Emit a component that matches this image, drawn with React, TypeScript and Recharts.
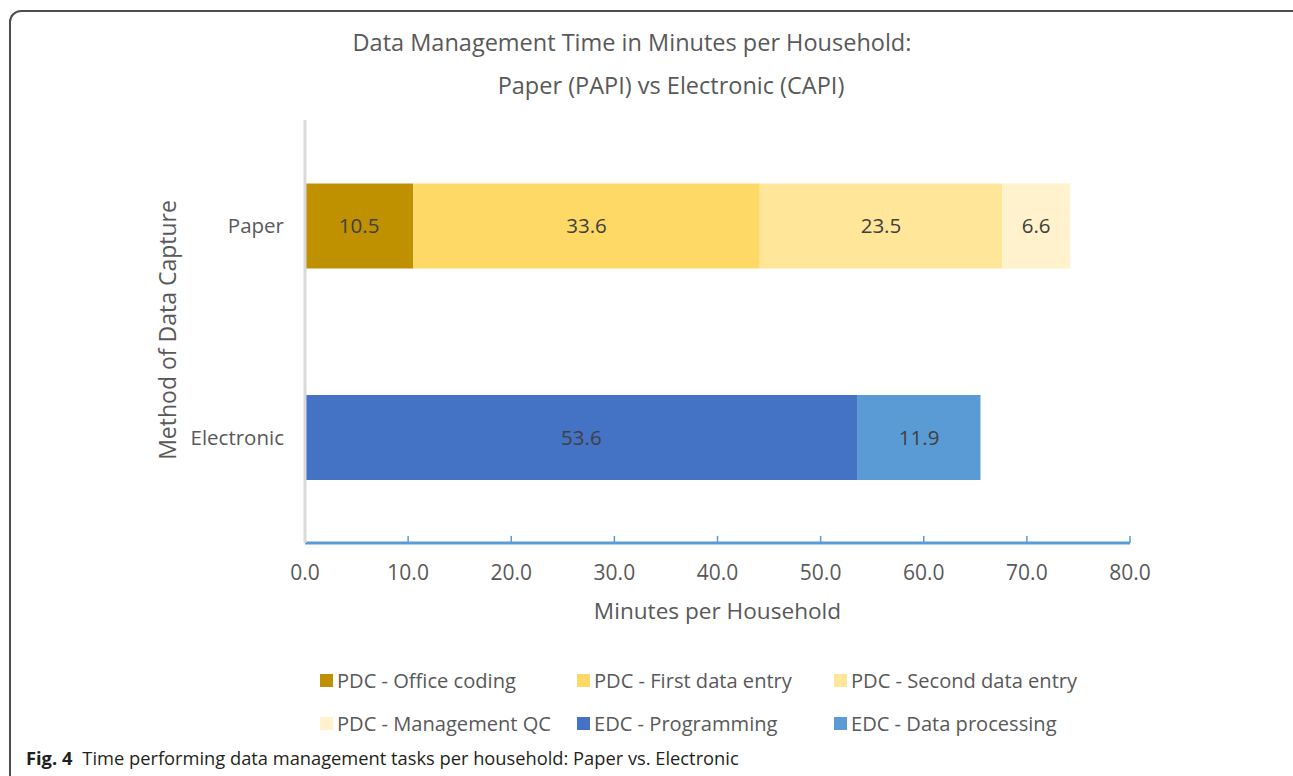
import { BarChart, Bar, XAxis, YAxis, LabelList, Label } from 'recharts';

const categories = ['Paper', 'Electronic'];

const seriesNames = [
  'PDC - Office coding',
  'PDC - First data entry',
  'PDC - Second data entry',
  'PDC - Management QC',
  'EDC - Programming',
  'EDC - Data processing',
];

const seriesColors = ['#BF9000', '#FFD966', '#FFE699', '#FFF2CC', '#4472C4', '#5B9BD5'];

// minutes per household, one entry per category (Paper, Electronic)
const officeCoding = [10.5, null];
const firstDataEntry = [33.6, null];
const secondDataEntry = [23.5, null];
const managementQC = [6.6, null];
const programming = [null, 53.6];
const dataProcessing = [null, 11.9];

const xTicks = [0, 10, 20, 30, 40, 50, 60, 70, 80];

const seriesValues = [officeCoding, firstDataEntry, secondDataEntry, managementQC, programming, dataProcessing];

const data = categories.map((name, i) => {
  const row: Record<string, string | number | null> = { name };
  seriesNames.forEach((s, j) => {
    row[s] = seriesValues[j][i];
  });
  return row;
});

const FONT = '"Open Sans", sans-serif';
const TEXT = '#595959';

function YTitle() {
  return (
    <text
      x={167}
      y={330}
      transform="rotate(-90 167 330)"
      textAnchor="middle"
      dominantBaseline="central"
      fill={TEXT}
      fontSize={23}
      fontFamily={FONT}
    >
      Method of Data Capture
    </text>
  );
}

export default function App() {
  return (
    <div
      style={{
        position: 'absolute',
        left: 0,
        top: 0,
        width: 1293,
        height: 776,
        overflow: 'hidden',
        background: '#fff',
        fontFamily: FONT,
      }}
    >
      <div
        style={{
          position: 'absolute',
          left: 9,
          top: 10,
          width: 1300,
          height: 820,
          border: '2px solid #4d4d4d',
          borderRadius: 12,
          boxSizing: 'border-box',
        }}
      />
      <div style={{ position: 'absolute', left: 332, top: 27, width: 600, textAlign: 'center', fontSize: 23.5, color: TEXT, lineHeight: '30px' }}>
        Data Management Time in Minutes per Household:
      </div>
      <div style={{ position: 'absolute', left: 371, top: 70, width: 600, textAlign: 'center', fontSize: 23.5, color: TEXT, lineHeight: '30px' }}>
        Paper (PAPI) vs Electronic (CAPI)
      </div>

      <div style={{ position: 'absolute', left: 0, top: 0 }}>
        <BarChart
          width={1293}
          height={776}
          data={data}
          layout="vertical"
          margin={{ top: 120, right: 163, bottom: 173, left: 0 }}
          barCategoryGap="30%"
        >
          <XAxis
            type="number"
            domain={[0, 80]}
            ticks={xTicks}
            interval={0}
            tickFormatter={(v: number) => v.toFixed(1)}
            axisLine={{ stroke: '#5B9BD5', strokeWidth: 3 }}
            tickLine={{ stroke: '#5B9BD5', strokeWidth: 1.5 }}
            tickSize={-7}
            tickMargin={29}
            height={60}
            tick={{ fill: TEXT, fontSize: 21, fontFamily: FONT }}
          >
            <Label
              value="Minutes per Household"
              position="bottom"
              offset={0}
              fill={TEXT}
              fontSize={22.6}
              fontFamily={FONT}
            />
          </XAxis>
          <YAxis
            type="category"
            dataKey="name"
            width={305}
            axisLine={{ stroke: '#d9d9d9', strokeWidth: 3 }}
            tickLine={false}
            tickMargin={15}
            tick={{ fill: TEXT, fontSize: 20.5, fontFamily: FONT }}
          >
            <Label content={<YTitle />} />
          </YAxis>
          {seriesNames.map((s, i) => (
            <Bar key={s} dataKey={s} stackId="a" fill={seriesColors[i]} isAnimationActive={false}>
              <LabelList dataKey={s} position="center" fill="#404040" fontSize={20.5} fontFamily={FONT} />
            </Bar>
          ))}
        </BarChart>
      </div>

      <div
        style={{
          position: 'absolute',
          left: 320,
          top: 666,
          display: 'grid',
          gridTemplateColumns: 'repeat(3, 257px)',
          rowGap: 15,
        }}
      >
        {seriesNames.map((s, i) => (
          <div key={s} style={{ display: 'flex', alignItems: 'center', height: 28, fontSize: 20.1, color: TEXT, whiteSpace: 'nowrap' }}>
            <span style={{ width: 13, height: 13, background: seriesColors[i], marginRight: 4, flex: 'none' }} />
            {s}
          </div>
        ))}
      </div>

      <div style={{ position: 'absolute', left: 26, top: 746, fontSize: 18.3, color: '#231f20', whiteSpace: 'nowrap', lineHeight: '24px' }}>
        <b>Fig. 4</b>
        <span style={{ marginLeft: 10 }}>Time performing data management tasks per household: Paper vs. Electronic</span>
      </div>
    </div>
  );
}
